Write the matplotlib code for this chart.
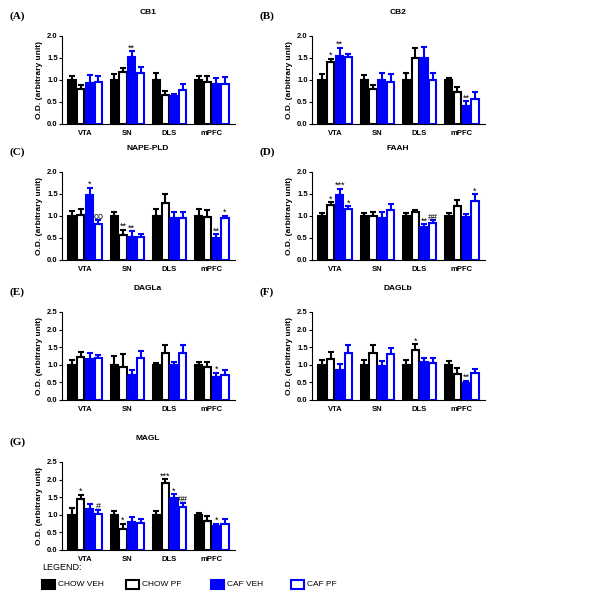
import numpy as np
import matplotlib.pyplot as plt

regions = ["VTA", "SN", "DLS", "mPFC"]
groups = ["CHOW VEH", "CHOW PF", "CAF VEH", "CAF PF"]

# per panel: means[region][group], upper error, significance marks
cb1_mean = [[1.0, 0.80, 0.93, 0.95], [1.0, 1.18, 1.52, 1.15], [1.0, 0.66, 0.64, 0.77], [1.0, 0.96, 0.92, 0.91]]
cb1_err = [[0.10, 0.08, 0.18, 0.15], [0.13, 0.09, 0.13, 0.15], [0.15, 0.10, 0.05, 0.15], [0.08, 0.14, 0.13, 0.15]]
cb1_sig = {(1, 2): "**"}

cb2_mean = [[1.0, 1.40, 1.55, 1.53], [1.0, 0.80, 1.01, 0.95], [1.0, 1.50, 1.50, 1.0], [1.0, 0.72, 0.41, 0.57]]
cb2_err = [[0.14, 0.08, 0.18, 0.05], [0.12, 0.09, 0.14, 0.18], [0.15, 0.23, 0.25, 0.17], [0.05, 0.11, 0.11, 0.16]]
cb2_sig = {(0, 1): "*", (0, 2): "**", (3, 2): "**"}

nape_mean = [[1.0, 1.02, 1.47, 0.82], [1.0, 0.57, 0.53, 0.52], [1.0, 1.30, 0.96, 0.96], [1.0, 0.98, 0.49, 0.95]]
nape_err = [[0.12, 0.14, 0.17, 0.10], [0.09, 0.12, 0.12, 0.06], [0.15, 0.21, 0.13, 0.12], [0.15, 0.15, 0.10, 0.06]]
nape_sig = {(0, 2): "*", (0, 3): "oo", (1, 1): "**", (1, 2): "**", (3, 2): "**", (3, 3): "*"}

faah_mean = [[1.0, 1.24, 1.47, 1.15], [1.0, 1.01, 0.96, 1.13], [1.0, 1.09, 0.75, 0.84], [1.0, 1.22, 0.97, 1.33]]
faah_err = [[0.06, 0.07, 0.15, 0.07], [0.06, 0.07, 0.12, 0.15], [0.07, 0.04, 0.07, 0.06], [0.07, 0.15, 0.07, 0.17]]
faah_sig = {(0, 1): "*", (0, 2): "***", (0, 3): "*", (2, 2): "**", (2, 3): "##", (3, 3): "*"}

dagla_mean = [[1.0, 1.22, 1.16, 1.20], [1.0, 0.93, 0.70, 1.19], [1.0, 1.33, 1.0, 1.33], [1.0, 0.94, 0.65, 0.70]]
dagla_err = [[0.13, 0.14, 0.17, 0.09], [0.25, 0.37, 0.16, 0.19], [0.06, 0.23, 0.08, 0.22], [0.07, 0.15, 0.12, 0.15]]
dagla_sig = {(3, 2): "*"}

daglb_mean = [[1.0, 1.16, 0.86, 1.34], [1.0, 1.33, 0.98, 1.31], [1.0, 1.42, 1.09, 1.05], [1.0, 0.74, 0.47, 0.77]]
daglb_err = [[0.15, 0.19, 0.16, 0.23], [0.15, 0.23, 0.13, 0.18], [0.13, 0.16, 0.10, 0.13], [0.10, 0.16, 0.08, 0.10]]
daglb_sig = {(2, 1): "*", (3, 2): "**"}

magl_mean = [[1.0, 1.44, 1.17, 1.02], [1.0, 0.60, 0.79, 0.78], [1.0, 1.89, 1.48, 1.22], [1.0, 0.82, 0.68, 0.73]]
magl_err = [[0.18, 0.12, 0.14, 0.12], [0.12, 0.14, 0.15, 0.11], [0.12, 0.12, 0.10, 0.12], [0.05, 0.15, 0.07, 0.15]]
magl_sig = {(0, 1): "*", (0, 3): "#", (1, 1): "*", (2, 1): "***", (2, 2): "*", (2, 3): "##", (3, 2): "*"}

plt.rcParams["font.family"] = "Liberation Sans"
BLUE = "#0000ff"
faces = ["black", "white", BLUE, "white"]
edges = ["black", "black", BLUE, BLUE]

fig = plt.figure(figsize=(6.08, 5.96), dpi=100)
W, H = 608, 596


def panel(px, py_bottom, top, letter, title, mean, err, sig):
    ax = fig.add_axes([px / W, 1 - py_bottom / H, 173 / W, 88 / H])
    mean = np.array(mean)
    err = np.array(err)
    bw = 0.17
    x = np.arange(len(regions))
    for g in range(4):
        xs = x + (g - 1.5) * (bw + 0.04)
        ax.bar(xs, mean[:, g], bw, color=faces[g], edgecolor=edges[g], linewidth=1.5)
        ax.errorbar(xs, mean[:, g], yerr=[np.zeros(4), err[:, g]], fmt="none",
                    ecolor=edges[g], elinewidth=1.5, capsize=2.5, capthick=1.5)
        for r in range(4):
            if (r, g) in sig:
                ax.text(xs[r], mean[r, g] + err[r, g] - 0.03, sig[(r, g)], ha="center",
                        va="bottom", fontsize=6.5)
    ax.set_ylim(0, top)
    ax.set_xlim(-0.55, 3.55)
    ticks = np.arange(0, top + 0.01, 0.5)
    ax.set_yticks(ticks)
    ax.set_yticklabels([f"{v:.1f}" for v in ticks], fontweight="bold")
    ax.set_xticks(x)
    ax.set_xticklabels(regions, fontweight="bold")
    ax.tick_params(axis="x", length=0, labelsize=5.5, pad=4)
    ax.tick_params(axis="y", length=2, labelsize=5.5, pad=1)
    for s in ["top", "right"]:
        ax.spines[s].set_visible(False)
    ax.set_ylabel("O.D. (arbitrary unit)", fontsize=6, fontweight="bold", labelpad=3)
    fig.text((px + 86) / W, 1 - (py_bottom - 112) / H, title, fontsize=6,
             fontweight="bold", ha="center", va="center")
    fig.text((px - 52) / W, 1 - (py_bottom - 108) / H, letter, fontsize=8,
             fontweight="bold", family="Liberation Serif", va="center")
    return ax


panel(62, 124, 2.0, "(A)", "CB1", cb1_mean, cb1_err, cb1_sig)
panel(312, 124, 2.0, "(B)", "CB2", cb2_mean, cb2_err, cb2_sig)
panel(62, 260, 2.0, "(C)", "NAPE-PLD", nape_mean, nape_err, nape_sig)
panel(312, 260, 2.0, "(D)", "FAAH", faah_mean, faah_err, faah_sig)
panel(62, 400, 2.5, "(E)", "DAGLa", dagla_mean, dagla_err, dagla_sig)
panel(312, 400, 2.5, "(F)", "DAGLb", daglb_mean, daglb_err, daglb_sig)
panel(62, 550, 2.5, "(G)", "MAGL", magl_mean, magl_err, magl_sig)

fig.text(42 / W, 1 - 568 / H, "LEGEND:", fontsize=6.5, va="center")
leg_x = [42, 126, 211, 291]
for g in range(4):
    fig.patches.append(plt.Rectangle((leg_x[g] / W, 1 - 589 / H), 13 / W, 9 / H,
                                     facecolor=faces[g], edgecolor=edges[g], linewidth=1.5,
                                     transform=fig.transFigure))
    fig.text((leg_x[g] + 16) / W, 1 - 585 / H, groups[g], fontsize=6, va="center")

fig.savefig("out.png", dpi=100)
